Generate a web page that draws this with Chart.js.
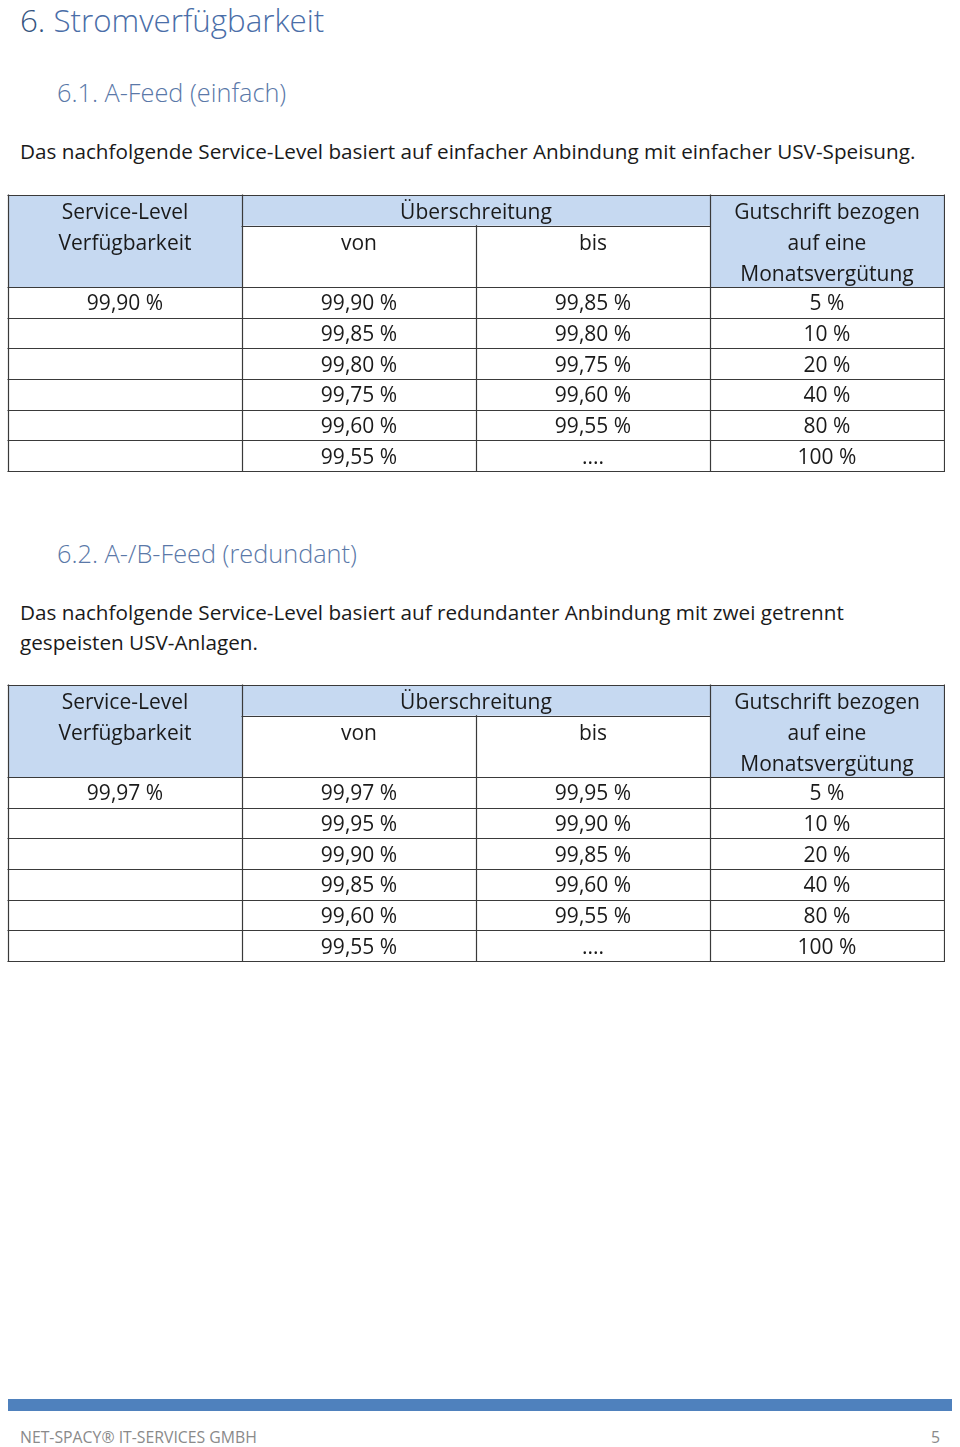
<!DOCTYPE html>
<html lang="de">
<head>
<meta charset="utf-8">
<title>Stromverfügbarkeit</title>
<script src="https://cdn.jsdelivr.net/npm/chart.js@4.4.1/dist/chart.umd.min.js"></script>
<style>
  html, body { margin: 0; padding: 0; background: #fff; }
  body { width: 960px; height: 1447px; position: relative; overflow: hidden; font-family: "Open Sans", "Noto Sans", sans-serif; color: #1a1a1a; }
  .abs { position: absolute; white-space: nowrap; }
  .h1 { left: 20px; top: 0px; font-size: 31.3px; line-height: 40px; font-weight: 300; color: #4a6ea8; }
  .h1 .num { color: #35557f; }
  .h2 { left: 57px; font-size: 25.3px; line-height: 34px; font-weight: 300; color: #5a78a8; }
  .p { left: 20px; font-size: 20.7px; line-height: 30px; color: #1a1a1a; }
  .tbl { position: absolute; left: 7px; }
  .bar { position: absolute; left: 8px; top: 1399px; width: 944px; height: 12px; background: #4f81bd; }
  .foot { font-size: 15.8px; line-height: 20px; color: #8a8a8a; top: 1427px; }
</style>
</head>
<body>

<div class="abs h1"><span class="num">6.</span> Stromverfügbarkeit</div>
<div class="abs h2" style="top:75px">6.1. A-Feed (einfach)</div>
<div class="abs p" style="top:136px">Das nachfolgende Service-Level basiert auf einfacher Anbindung mit einfacher USV-Speisung.</div>
<canvas id="table1" class="tbl" style="top:194px" width="938" height="278"></canvas>

<div class="abs h2" style="top:536px">6.2. A-/B-Feed (redundant)</div>
<div class="abs p" style="top:597px">Das nachfolgende Service-Level basiert auf redundanter Anbindung mit zwei getrennt<br>gespeisten USV-Anlagen.</div>
<canvas id="table2" class="tbl" style="top:684px" width="938" height="278"></canvas>

<div class="bar"></div>
<div class="abs foot" style="left:20px">NET-SPACY® IT-SERVICES GMBH</div>
<div class="abs foot" style="left:931px">5</div>

<script>
// header texts (shared by both tables)
var headerAvailability = ["Service-Level", "Verfügbarkeit"];
var headerExceeded = "Überschreitung";
var headerSub = ["von", "bis"];
var headerCredit = ["Gutschrift bezogen", "auf eine", "Monatsvergütung"];

// 6.1 A-Feed (einfach)
var availability1 = ["99,90 %"];
var fromValues1 = ["99,90 %", "99,85 %", "99,80 %", "99,75 %", "99,60 %", "99,55 %"];
var toValues1 = ["99,85 %", "99,80 %", "99,75 %", "99,60 %", "99,55 %", "...."];
var credits1 = ["5 %", "10 %", "20 %", "40 %", "80 %", "100 %"];

// 6.2 A-/B-Feed (redundant)
var availability2 = ["99,97 %"];
var fromValues2 = ["99,97 %", "99,95 %", "99,90 %", "99,85 %", "99,60 %", "99,55 %"];
var toValues2 = ["99,95 %", "99,90 %", "99,85 %", "99,60 %", "99,55 %", "...."];
var credits2 = ["5 %", "10 %", "20 %", "40 %", "80 %", "100 %"];

var headerRows = 3;
var headerFill = "#c6d9f1";
var lineColor = "#3a3a3a";
var textColor = "#1a1a1a";
var headFont = '21px "Open Sans", "Noto Sans", sans-serif';
var cellFont = '21px "Open Sans", "Noto Sans", sans-serif';

// draws cell backgrounds + grid before the points, the texts after
var tablePlugin = {
    id: "tableCells",
    beforeDatasetsDraw: function (chart) {
        var ctx = chart.ctx;
        var sx = chart.scales.x, sy = chart.scales.y;
        var px = function (v) { return sx.getPixelForValue(v); };
        var py = function (v) { return sy.getPixelForValue(v); };
        var rows = sy.max;

        ctx.save();
        // blue header cells
        ctx.fillStyle = headerFill;
        ctx.fillRect(px(0), py(0), px(1) - px(0), py(headerRows) - py(0));
        ctx.fillRect(px(1), py(0), px(3) - px(1), py(1) - py(0));
        ctx.fillRect(px(3), py(0), px(4) - px(3), py(headerRows) - py(0));

        ctx.strokeStyle = lineColor;
        ctx.lineWidth = 1.2;
        var crisp = function (p) { return Math.round(p) + 0.5; };
        var hLine = function (y, x0, x1) {
            ctx.beginPath();
            ctx.moveTo(px(x0) - 0.5, crisp(py(y)));
            ctx.lineTo(px(x1) + 1, crisp(py(y)));
            ctx.stroke();
        };
        var vLine = function (x, y0, y1) {
            ctx.beginPath();
            ctx.moveTo(crisp(px(x)), py(y0) - 0.5);
            ctx.lineTo(crisp(px(x)), py(y1) + 1);
            ctx.stroke();
        };
        hLine(0, 0, 4);
        hLine(1, 1, 3);
        for (var r = headerRows; r <= rows; r++) hLine(r, 0, 4);
        vLine(0, 0, rows);
        vLine(1, 0, rows);
        vLine(2, 1, rows);
        vLine(3, 0, rows);
        vLine(4, 0, rows);
        ctx.restore();
    },
    afterDatasetsDraw: function (chart) {
        var ctx = chart.ctx;
        ctx.save();
        ctx.fillStyle = textColor;
        ctx.textAlign = "center";
        ctx.textBaseline = "middle";
        chart.data.datasets.forEach(function (ds, di) {
            var meta = chart.getDatasetMeta(di);
            ctx.font = di === 0 ? headFont : cellFont;
            var shift = di === 0 ? 3 : 2;
            meta.data.forEach(function (el, i) {
                ctx.fillText(ds.data[i].text, el.x, el.y + shift);
            });
        });
        ctx.restore();
    }
};

function columnPoints(col, texts, firstRow) {
    return texts.map(function (t, i) {
        return { x: col + 0.5, y: firstRow + i + 0.5, text: t };
    });
}

function SetupTable(canvasId, availability, fromValues, toValues, credits) {
    var header = []
        .concat(columnPoints(0, headerAvailability, 0))
        .concat([{ x: 2, y: 0.5, text: headerExceeded }])
        .concat(columnPoints(1, [headerSub[0]], 1))
        .concat(columnPoints(2, [headerSub[1]], 1))
        .concat(columnPoints(3, headerCredit, 0));

    var body = []
        .concat(columnPoints(0, availability, headerRows))
        .concat(columnPoints(1, fromValues, headerRows))
        .concat(columnPoints(2, toValues, headerRows))
        .concat(columnPoints(3, credits, headerRows));

    new Chart(document.getElementById(canvasId), {
        type: "scatter",
        data: {
            datasets: [
                { label: "Kopf", data: header, pointRadius: 0 },
                { label: "Werte", data: body, pointRadius: 0 }
            ]
        },
        options: {
            responsive: false,
            animation: false,
            events: [],
            layout: { padding: 1 },
            scales: {
                x: { type: "linear", min: 0, max: 4, display: false },
                y: { type: "linear", min: 0, max: headerRows + fromValues.length, reverse: true, display: false }
            },
            plugins: {
                legend: { display: false },
                tooltip: { enabled: false },
                title: { display: false }
            }
        },
        plugins: [tablePlugin]
    });
}

SetupTable("table1", availability1, fromValues1, toValues1, credits1);
SetupTable("table2", availability2, fromValues2, toValues2, credits2);
</script>
</body>
</html>
